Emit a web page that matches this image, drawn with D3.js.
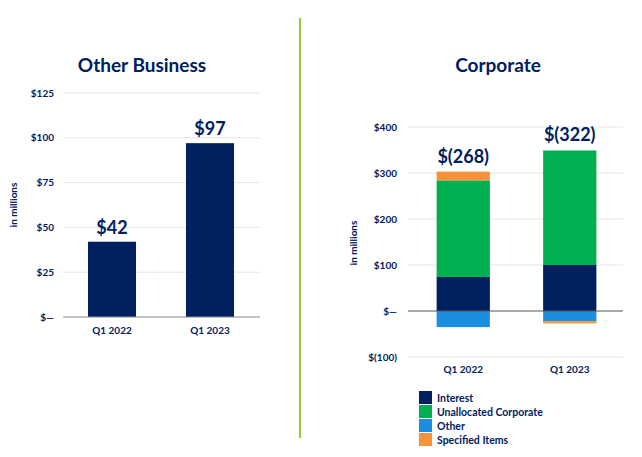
<!DOCTYPE html>
<html><head><meta charset="utf-8">
<script src="https://cdn.jsdelivr.net/npm/d3@7"></script>
<style>body{margin:0;background:#fff}svg{display:block;font-family:Lato,"Open Sans",sans-serif}</style>
</head><body><svg id="c" width="642" height="457"></svg>
<script>
const leftCategories = ["Q1 2022", "Q1 2023"];
const leftValues = [42, 97];
const leftLabels = ["$42", "$97"];
const leftTicks = [0, 25, 50, 75, 100, 125];
const leftTickLabels = ["$—", "$25", "$50", "$75", "$100", "$125"];

const rightCategories = ["Q1 2022", "Q1 2023"];
const seriesNames = ["Interest", "Unallocated Corporate", "Other", "Specified Items"];
const interest = [74, 100];
const unallocated = [210, 249];
const other = [-35, -22];
const specified = [19, -5];
const rightLabels = ["$(268)", "$(322)"];
const rightTicks = [-100, 0, 100, 200, 300, 400];
const rightTickLabels = ["$(100)", "$—", "$100", "$200", "$300", "$400"];
const colors = ["#002060", "#00b050", "#1b8ee0", "#f7923a"];

const navy = "#002060";
const svg = d3.select("#c");

// divider
svg.append("line").attr("x1",300).attr("x2",300).attr("y1",18).attr("y2",438)
  .attr("stroke","#92c83e").attr("stroke-width",2);

// ---------- Left chart ----------
const L = {x0:63, x1:260, y0:317, y1:93};
const ly = d3.scaleLinear().domain([0,125]).range([L.y0, L.y1]);
const lx = d3.scaleBand().domain(leftCategories).range([63, 259]).paddingInner(0.51).paddingOuter(0.255);
svg.append("text").attr("x",142).attr("y",72).attr("text-anchor","middle")
  .attr("font-size",19).attr("font-weight","bold").attr("fill",navy).text("Other Business");
const lg = svg.append("g");
lg.selectAll("line.g").data(leftTicks.filter(d=>d!==0)).join("line")
  .attr("x1",L.x0).attr("x2",L.x1).attr("y1",d=>ly(d)).attr("y2",d=>ly(d))
  .attr("stroke","#e6e6e6").attr("stroke-width",1);
lg.selectAll("text.t").data(leftTicks).join("text")
  .attr("x",54).attr("y",d=>ly(d)+3.5).attr("text-anchor","end")
  .attr("font-size",10).attr("font-weight","bold").attr("fill",navy)
  .text((d,i)=>leftTickLabels[i]);
lg.selectAll("rect").data(leftValues).join("rect")
  .attr("x",(d,i)=>lx(leftCategories[i])).attr("width",lx.bandwidth())
  .attr("y",d=>ly(d)).attr("height",d=>ly(0)-ly(d)).attr("fill",navy);
lg.append("line").attr("x1",L.x0).attr("x2",L.x1).attr("y1",ly(0)).attr("y2",ly(0))
  .attr("stroke","#888").attr("stroke-width",1);
lg.selectAll("text.v").data(leftValues).join("text")
  .attr("x",(d,i)=>lx(leftCategories[i])+lx.bandwidth()/2).attr("y",d=>ly(d)-8)
  .attr("text-anchor","middle").attr("font-size",18).attr("font-weight","bold").attr("fill",navy)
  .text((d,i)=>leftLabels[i]);
lg.selectAll("text.c").data(leftCategories).join("text")
  .attr("x",d=>lx(d)+lx.bandwidth()/2).attr("y",334).attr("text-anchor","middle")
  .attr("font-size",10).attr("font-weight","bold").attr("fill",navy).text(d=>d);
svg.append("text").attr("transform","translate(17,205) rotate(-90)").attr("text-anchor","middle")
  .attr("font-size",10).attr("font-weight","bold").attr("fill",navy).text("in millions");

// ---------- Right chart ----------
const R = {x0:408, x1:623};
const ry = d3.scaleLinear().domain([-100,400]).range([357,127]);
const rx = d3.scaleBand().domain(rightCategories).range([R.x0+2, R.x1]).paddingInner(0.5).paddingOuter(0.25);
svg.append("text").attr("x",498).attr("y",72).attr("text-anchor","middle")
  .attr("font-size",19).attr("font-weight","bold").attr("fill",navy).text("Corporate");
const rg = svg.append("g");
rg.selectAll("line.g").data(rightTicks.filter(d=>d!==0)).join("line")
  .attr("x1",R.x0).attr("x2",R.x1).attr("y1",d=>ry(d)).attr("y2",d=>ry(d))
  .attr("stroke","#e6e6e6").attr("stroke-width",1);
rg.selectAll("text.t").data(rightTicks).join("text")
  .attr("x",397).attr("y",d=>ry(d)+3.5).attr("text-anchor","end")
  .attr("font-size",10).attr("font-weight","bold").attr("fill",navy)
  .text((d,i)=>rightTickLabels[i]);

const series = [interest, unallocated, other, specified];
rightCategories.forEach((cat,i)=>{
  let pos = 0, neg = 0;
  series.forEach((s,k)=>{
    const v = s[i];
    let a,b;
    if (v>=0){ a=pos; b=pos+v; pos=b; } else { a=neg; b=neg+v; neg=b; }
    rg.append("rect").attr("x",rx(cat)).attr("width",rx.bandwidth())
      .attr("y",ry(Math.max(a,b))).attr("height",Math.abs(ry(a)-ry(b)))
      .attr("fill",colors[k]);
  });
  rg.append("text").attr("x",rx(cat)+rx.bandwidth()/2).attr("y",ry(pos)-9)
    .attr("text-anchor","middle").attr("font-size",18).attr("font-weight","bold").attr("fill",navy)
    .text(rightLabels[i]);
  rg.append("text").attr("x",rx(cat)+rx.bandwidth()/2).attr("y",373).attr("text-anchor","middle")
    .attr("font-size",10).attr("font-weight","bold").attr("fill",navy).text(cat);
});
rg.append("line").attr("x1",R.x0).attr("x2",R.x1).attr("y1",ry(0)).attr("y2",ry(0))
  .attr("stroke","#555").attr("stroke-width",1);
svg.append("text").attr("transform","translate(357,243) rotate(-90)").attr("text-anchor","middle")
  .attr("font-size",10).attr("font-weight","bold").attr("fill",navy).text("in millions");

// legend
const leg = svg.append("g").attr("transform","translate(419,391)");
seriesNames.forEach((n,k)=>{
  leg.append("rect").attr("x",0).attr("y",k*14).attr("width",13).attr("height",13).attr("fill",colors[k]);
  leg.append("text").attr("x",18).attr("y",k*14+10.5).attr("font-size",10.5).attr("font-weight","bold")
    .attr("fill",navy).text(n);
});
</script></body></html>
